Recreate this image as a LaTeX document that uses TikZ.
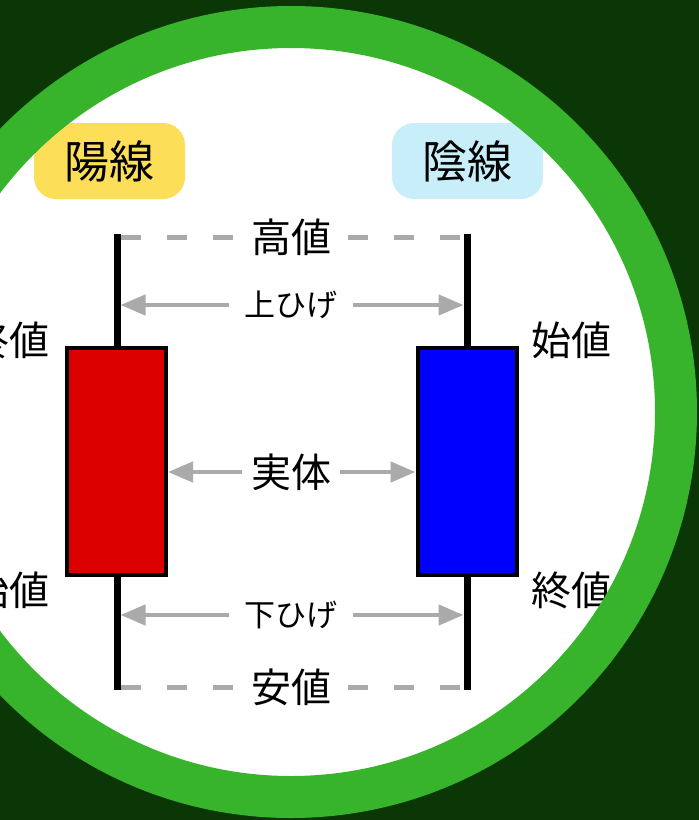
\documentclass[tikz,border=0pt]{standalone}
\usepackage{fontspec}
\newfontfamily\jp{Noto Sans CJK JP}
\usetikzlibrary{arrows.meta}
\definecolor{bgdark}{RGB}{10,55,5}
\definecolor{ringgreen}{RGB}{55,180,43}
\definecolor{tagyellow}{RGB}{253,222,88}
\definecolor{tagblue}{RGB}{200,238,250}
\definecolor{arrowgray}{RGB}{170,170,170}
\definecolor{bodyred}{RGB}{221,0,0}
\definecolor{bodyblue}{RGB}{0,0,255}
\begin{document}
\begin{tikzpicture}[x=1pt,y=-1pt,
  tag/.style={rounded corners=22pt, minimum width=151pt, minimum height=76pt, inner sep=0pt, font=\jp\fontsize{45}{50}\selectfont},
  big/.style={font=\jp\fontsize{40}{46}\selectfont, inner sep=0pt},
  small/.style={font=\jp\fontsize{31}{36}\selectfont, inner sep=0pt},
  wick/.style={fill=black, minimum width=7pt, minimum height=456pt, inner sep=0pt, outer sep=0pt},
  body/.style={draw=black, line width=4pt, minimum width=99pt, minimum height=227pt, inner sep=0pt},
  arr/.style={draw=arrowgray, line width=4.5pt, -{Triangle[length=25pt,width=20pt]}},
  dashline/.style={draw=arrowgray, line width=5pt, dash pattern=on 20pt off 26pt},
]
\useasboundingbox (0,0) rectangle (699,820);
\clip (0,0) rectangle (699,820);
\fill[bgdark] (0,0) rectangle (699,820);
\fill[white] (291,412) circle[radius=388pt];

% tags
\node[tag, fill=tagyellow] (yosen) at (109.5,161) {陽線};
\node[tag, fill=tagblue] (insen) at (467.5,161) {陰線};

% wicks and bodies
\node[wick] (wickL) at (117,462) {};
\node[wick] (wickR) at (467,462) {};
\node[body, fill=bodyred] (bodyL) at (116.5,461.5) {};
\node[body, fill=bodyblue] (bodyR) at (467,461.5) {};

% centre labels
\node[big, inner xsep=17pt] (takane) at (291,237) {高値};
\node[small, inner xsep=15pt] (uphige) at (291,305) {上ひげ};
\node[big, inner xsep=9pt] (jittai) at (291,472) {実体};
\node[small, inner xsep=15pt] (shitahige) at (291,615) {下ひげ};
\node[big, inner xsep=17pt] (yasune) at (291,687) {安値};

% side labels
\node[big, anchor=east] (closeL) at (50,340) {終値};
\node[big, anchor=east] (openL) at (50,590) {始値};
\node[big, anchor=west] (openR) at (531,340) {始値};
\node[big, anchor=west] (closeR) at (531,590) {終値};

% dashed lines
\draw[dashline] (wickL.east |- takane) -- (takane.west);
\draw[dashline] (takane.east) -- (wickR.west |- takane);
\draw[dashline] (wickL.east |- yasune) -- (yasune.west);
\draw[dashline] (yasune.east) -- (wickR.west |- yasune);

% arrows
\draw[arr] (uphige.west) -- (wickL.east |- uphige);
\draw[arr] (uphige.east) -- (wickR.west |- uphige);
\draw[arr] (jittai.west) -- (bodyL.east |- jittai);
\draw[arr] (jittai.east) -- (bodyR.west |- jittai);
\draw[arr] (shitahige.west) -- (wickL.east |- shitahige);
\draw[arr] (shitahige.east) -- (wickR.west |- shitahige);

% ring
\draw[ringgreen, line width=42pt] (291,412) circle[radius=385pt];
\end{tikzpicture}
\end{document}
